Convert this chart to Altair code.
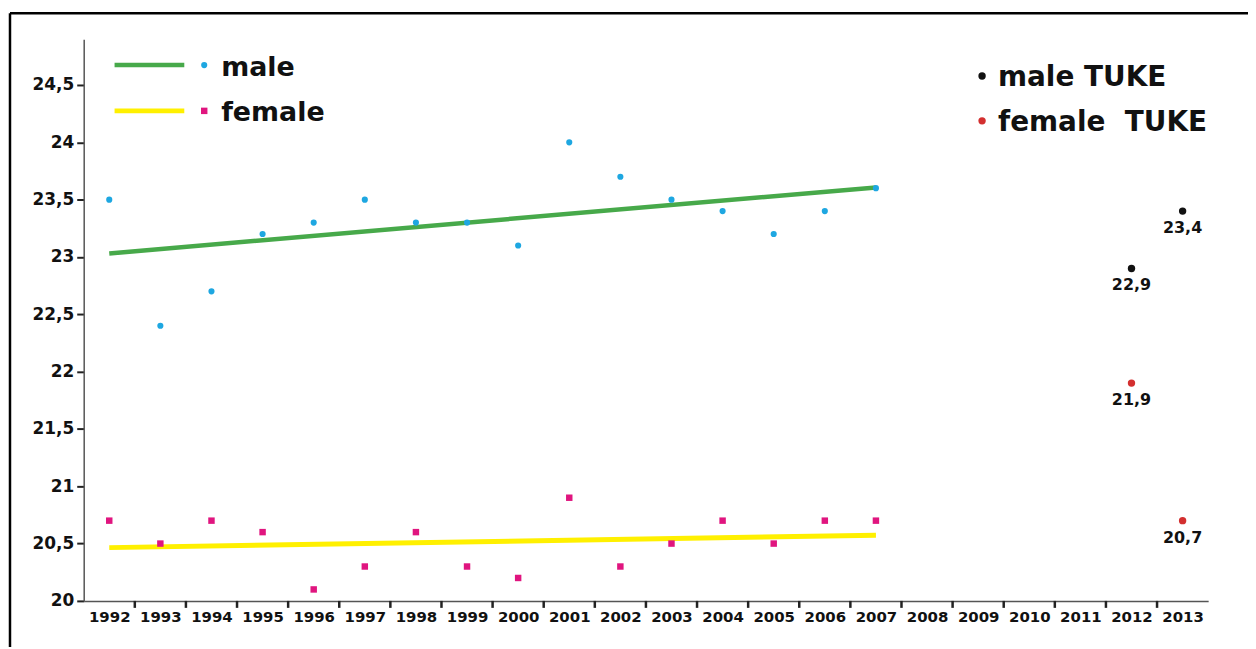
import altair as alt
import pandas as pd

# ---- data ----
years = list(range(1992, 2014))
obs_years = list(range(1992, 2008))
male = [23.5, 22.4, 22.7, 23.2, 23.3, 23.5, 23.3, 23.3, 23.1, 24.0, 23.7, 23.5, 23.4, 23.2, 23.4, 23.6]
female = [20.7, 20.5, 20.7, 20.6, 20.1, 20.3, 20.6, 20.3, 20.2, 20.9, 20.3, 20.5, 20.7, 20.5, 20.7, 20.7]
tuke_years = [2012, 2013]
tuke_male = [22.9, 23.4]
tuke_female = [21.9, 20.7]
y_ticks = [20, 20.5, 21, 21.5, 22, 22.5, 23, 23.5, 24, 24.5]

FONT = "DejaVu Sans"
BLUE = "#1ea7e1"
MAGENTA = "#e0157f"
GREEN = "#47a94a"
YELLOW = "#fff000"
RED = "#d32f2f"
BLACK = "#111111"

obs = pd.DataFrame({"year": obs_years, "male": male, "female": female})
tuke = pd.DataFrame({
    "year": tuke_years * 2,
    "value": tuke_male + tuke_female,
    "group": ["male TUKE"] * 2 + ["female TUKE"] * 2,
})
tuke["label"] = tuke["value"].map(lambda v: f"{v:.1f}".replace(".", ","))
# category boundaries (between consecutive years) for the x tick marks
bounds = pd.DataFrame({"b": [y + 0.5 for y in years[:-1]]})
one = pd.DataFrame({"k": [0]})

xscale = alt.Scale(domain=[years[0] - 0.5, years[-1] + 0.5], nice=False, zero=False)
yscale = alt.Scale(domain=[20, 24.9], nice=False, zero=False)

xaxis = alt.Axis(title=None, values=years, format="d", labelAngle=0, tickSize=0,
                 domainColor="#555", domainWidth=1.5, grid=False,
                 labelFont=FONT, labelFontSize=15, labelFontWeight="bold",
                 labelColor="#111", labelPadding=9, labelFlush=False, labelOverlap=False)
yaxis = alt.Axis(title=None, values=y_ticks, tickSize=7, tickWidth=2, tickColor="#222",
                 domainColor="#555", domainWidth=1.5, grid=False,
                 labelFont=FONT, labelFontSize=17, labelFontWeight="bold",
                 labelColor="#111", labelPadding=3,
                 labelExpr="replace(toString(datum.value), '.', ',')")

base = alt.Chart(obs)

male_pts = base.mark_circle(size=38, color=BLUE, opacity=1).encode(
    x=alt.X("year:Q", scale=xscale, axis=xaxis),
    y=alt.Y("male:Q", scale=yscale, axis=yaxis))
female_pts = base.mark_square(size=42, color=MAGENTA, opacity=1).encode(
    x=alt.X("year:Q", scale=xscale), y=alt.Y("female:Q", scale=yscale))

male_fit = base.transform_regression("year", "male").mark_line(
    color=GREEN, strokeWidth=4.5).encode(
    x=alt.X("year:Q", scale=xscale), y=alt.Y("male:Q", scale=yscale))
female_fit = base.transform_regression("year", "female").mark_line(
    color=YELLOW, strokeWidth=5).encode(
    x=alt.X("year:Q", scale=xscale), y=alt.Y("female:Q", scale=yscale))

xticks = alt.Chart(bounds).mark_rule(color="#222", strokeWidth=2.5).encode(
    x=alt.X("b:Q", scale=xscale), y=alt.value(564), y2=alt.value(571))

tuke_base = alt.Chart(tuke).encode(
    x=alt.X("year:Q", scale=xscale), y=alt.Y("value:Q", scale=yscale))
tuke_pts = tuke_base.mark_circle(size=55, opacity=1).encode(
    color=alt.Color("group:N", scale=alt.Scale(domain=["male TUKE", "female TUKE"],
                                               range=[BLACK, RED]), legend=None))
tuke_lbl = tuke_base.mark_text(dy=17, font=FONT, fontSize=16, fontWeight="bold",
                               color=BLACK, baseline="middle").encode(text="label:N")

# ---- frame ----
frame_left = alt.Chart(one).mark_rule(color="#000", strokeWidth=2.5).encode(
    x=alt.value(-74), y=alt.value(-26), y2=alt.value(700))
frame_top = alt.Chart(one).mark_rule(color="#000", strokeWidth=2.5).encode(
    x=alt.value(-74), x2=alt.value(1300), y=alt.value(-26))

# ---- manual legends ----
def leg_rule(color, y, w):
    return alt.Chart(one).mark_rule(color=color, strokeWidth=w).encode(
        x=alt.value(31), x2=alt.value(101), y=alt.value(y))

def leg_text(txt, x, y, size):
    return alt.Chart(one).mark_text(text=txt, font=FONT, fontSize=size, fontWeight="bold",
                                    color=BLACK, align="left", baseline="alphabetic").encode(
        x=alt.value(x), y=alt.value(y))

leg = [
    leg_rule(GREEN, 26, 4.5),
    alt.Chart(one).mark_circle(size=38, color=BLUE, opacity=1).encode(x=alt.value(121), y=alt.value(26)),
    leg_text("male", 138, 37, 27),
    leg_rule(YELLOW, 72, 5),
    alt.Chart(one).mark_square(size=42, color=MAGENTA, opacity=1).encode(x=alt.value(121), y=alt.value(72)),
    leg_text("female", 138, 82, 27),
    alt.Chart(one).mark_circle(size=55, color=BLACK, opacity=1).encode(x=alt.value(902), y=alt.value(37)),
    leg_text("male TUKE", 918, 47, 28),
    alt.Chart(one).mark_circle(size=55, color=RED, opacity=1).encode(x=alt.value(902), y=alt.value(82)),
    leg_text("female\u00a0 TUKE", 918, 92, 28),
]

chart = alt.layer(
    frame_left, frame_top, male_fit, female_fit, male_pts, female_pts, xticks,
    tuke_pts, tuke_lbl, *leg
).properties(
    width=1129, height=564,
    padding={"left": 76, "top": 30, "right": 40, "bottom": 45},
    autosize="none",
    background="white",
).configure_view(stroke=None)

chart.save("out.html", embed_options={"renderer": "svg", "actions": False})
